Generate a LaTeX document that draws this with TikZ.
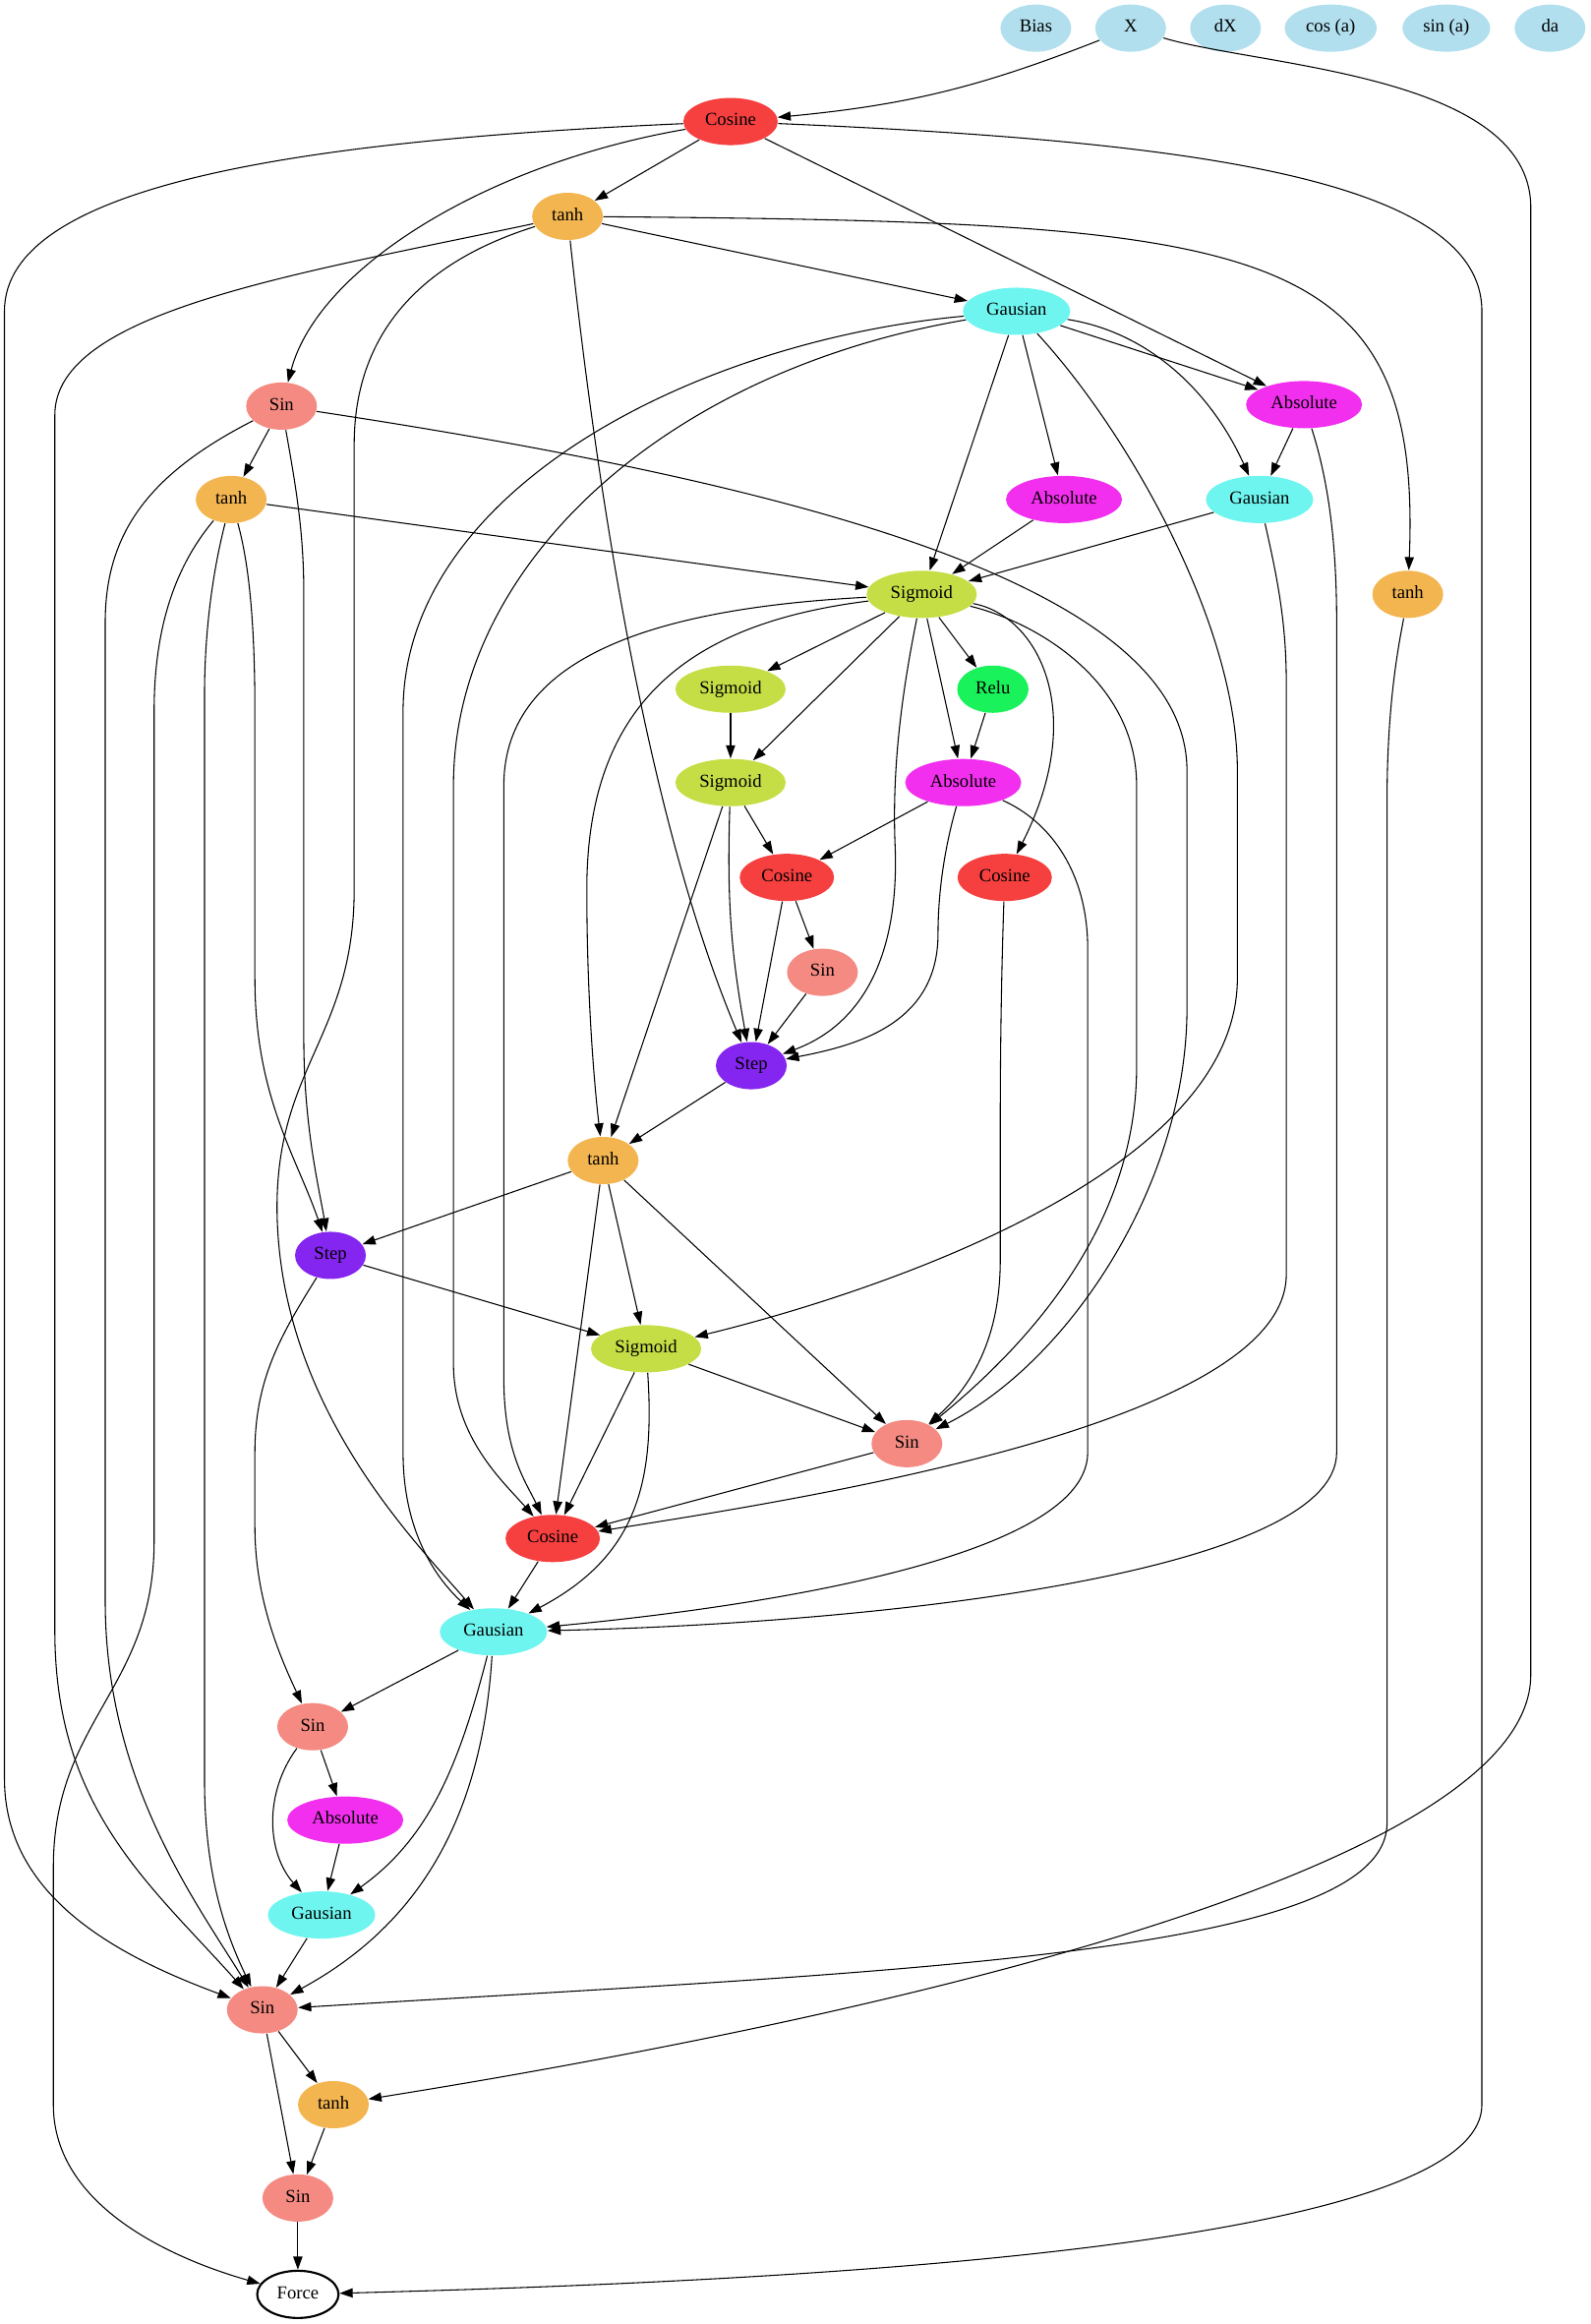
\documentclass[tikz,border=0pt]{standalone}
\usepackage{fontspec}
\setmainfont{Liberation Serif}
\usetikzlibrary{shapes.geometric,arrows.meta}

\definecolor{inblue}{HTML}{B2DFEE}
\definecolor{cosred}{HTML}{F63F3F}
\definecolor{tanhorange}{HTML}{F3B550}
\definecolor{gauscyan}{HTML}{6EF5EF}
\definecolor{sinsalmon}{HTML}{F48A82}
\definecolor{absmagenta}{HTML}{F22FEE}
\definecolor{sigyellow}{HTML}{C5DE45}
\definecolor{relugreen}{HTML}{19F25A}
\definecolor{steppurple}{HTML}{8525F0}

\begin{document}
\begin{tikzpicture}[x=1.13pt,y=-1.13pt,>={Triangle[length=10pt,width=7pt]},line width=0.8pt,
	every node/.style={shape=ellipse,font=\fontsize{14}{16}\selectfont,inner xsep=6pt,inner ysep=2pt,text height=9.5pt,text depth=3pt,minimum width=54pt,minimum height=36pt},
	input/.style={fill=inblue},
	cosfill/.style={fill=cosred},
	tanhfill/.style={fill=tanhorange},
	gausfill/.style={fill=gauscyan},
	sinfill/.style={fill=sinsalmon},
	absfill/.style={fill=absmagenta},
	sigfill/.style={fill=sigyellow},
	relufill/.style={fill=relugreen},
	stepfill/.style={fill=steppurple},
	output/.style={draw,line width=1.6pt,fill=white},]
	\useasboundingbox (0,0) rectangle (1073,1568);
	% create inputs
	\node[input] (Bias) at (699,19) {Bias};
	\node[input] (X) at (763,19) {X};
	\node[input] (dX) at (827,19) {dX};
	\node[input] (cosa) at (898,19) {cos (a)};
	\node[input] (sina) at (976,19) {sin (a)};
	\node[input] (da) at (1046,19) {da};
	% create hidden nodes
	\node[cosfill] (Cos1) at (493,82) {Cosine};
	\node[tanhfill] (tanh1) at (383,146) {tanh};
	\node[gausfill] (Gaus1) at (686,210) {Gausian};
	\node[sinfill] (Sin1) at (190,274) {Sin};
	\node[absfill] (Abs1) at (880,273) {Absolute};
	\node[tanhfill] (tanh2) at (156,337) {tanh};
	\node[absfill] (Abs2) at (718,337) {Absolute};
	\node[gausfill] (Gaus2) at (850,337) {Gausian};
	\node[tanhfill] (tanh3) at (950,401) {tanh};
	\node[sigfill] (Sig1) at (622,401) {Sigmoid};
	\node[sigfill] (Sig2) at (493,465) {Sigmoid};
	\node[relufill] (Relu) at (670,465) {Relu};
	\node[sigfill] (Sig3) at (493,528) {Sigmoid};
	\node[absfill] (Abs3) at (650,528) {Absolute};
	\node[cosfill] (Cos2) at (531,592) {Cosine};
	\node[cosfill] (Cos3) at (678,592) {Cosine};
	\node[sinfill] (Sin2) at (555,656) {Sin};
	\node[stepfill] (Step1) at (507,719) {Step};
	\node[tanhfill] (tanh4) at (407,783) {tanh};
	\node[stepfill] (Step2) at (223,847) {Step};
	\node[sigfill] (Sig4) at (436,910) {Sigmoid};
	\node[sinfill] (Sin3) at (612,974) {Sin};
	\node[cosfill] (Cos4) at (373,1038) {Cosine};
	\node[gausfill] (Gaus3) at (333,1101) {Gausian};
	\node[sinfill] (Sin4) at (211,1165) {Sin};
	\node[absfill] (Abs4) at (233,1228) {Absolute};
	\node[gausfill] (Gaus4) at (217,1292) {Gausian};
	\node[sinfill] (Sin5) at (177,1356) {Sin};
	\node[tanhfill] (tanh5) at (225,1420) {tanh};
	\node[sinfill] (Sin6) at (201,1483) {Sin};
	% output
	\node[output] (Force) at (201,1548) {Force};

	% connections
	\draw[->] (X) to[bend left=8] (Cos1);
	\draw[->] (X) .. controls (850,45) and (1033,50) .. (1033,140) -- (1033,1130) .. controls (1033,1260) and (600,1360) .. (tanh5);
	\draw[->] (Cos1) to (tanh1);
	\draw[->] (Cos1) .. controls (330,110) and (215,180) .. (Sin1);
	\draw[->] (Cos1) to (Abs1);
	\draw[->] (Cos1) .. controls (200,95) and (3,125) .. (3,210) -- (3,1200) .. controls (3,1280) and (80,1320) .. (Sin5);
	\draw[->] (Cos1) .. controls (800,95) and (1000,120) .. (1000,210) -- (1000,1420) .. controls (1000,1520) and (500,1540) .. (Force);

	\draw[->] (tanh1) to (Gaus1);
	\draw[->] (tanh1) .. controls (850,150) and (960,160) .. (tanh3);
	\draw[->] (tanh1) .. controls (405,350) and (440,560) .. (Step1);
	\draw[->] (tanh1) .. controls (290,175) and (239,220) .. (239,300) -- (239,600) .. controls (239,700) and (185,720) .. (187,820) .. controls (190,950) and (280,1040) .. (Gaus3);
	\draw[->] (tanh1) .. controls (200,185) and (37,210) .. (37,280) -- (37,1100) .. controls (37,1220) and (100,1270) .. (Sin5);

	\draw[->] (Gaus1) to (Abs1);
	\draw[->] (Gaus1) .. controls (780,225) and (820,270) .. (Gaus2);
	\draw[->] (Gaus1) to (Abs2);
	\draw[->] (Gaus1) to (Sig1);
	\draw[->] (Gaus1) .. controls (760,290) and (835,420) .. (835,520) -- (835,660) .. controls (835,800) and (560,880) .. (Sig4);
	\draw[->] (Gaus1) .. controls (450,250) and (306,380) .. (306,530) -- (306,920) .. controls (306,970) and (340,1000) .. (Cos4);
	\draw[->] (Gaus1) .. controls (470,230) and (272,330) .. (272,480) -- (272,980) .. controls (272,1040) and (300,1070) .. (Gaus3);

	\draw[->] (Sin1) to (tanh2);
	\draw[->] (Sin1) .. controls (200,330) and (205,360) .. (205,400) -- (205,700) .. controls (205,760) and (215,800) .. (Step2);
	\draw[->] (Sin1) .. controls (100,320) and (71,360) .. (71,420) -- (71,1080) .. controls (71,1200) and (130,1280) .. (Sin5);
	\draw[->] (Sin1) .. controls (560,330) and (801,400) .. (801,520) -- (801,680) .. controls (801,800) and (720,920) .. (Sin3);

	\draw[->] (Abs1) to (Gaus2);
	\draw[->] (Abs1) .. controls (895,320) and (902,360) .. (902,420) -- (902,980) .. controls (902,1060) and (600,1095) .. (Gaus3);

	\draw[->] (tanh2) to (Sig1);
	\draw[->] (tanh2) .. controls (168,380) and (172,420) .. (172,480) -- (172,660) .. controls (172,740) and (200,780) .. (Step2);
	\draw[->] (tanh2) .. controls (145,380) and (138,420) .. (138,470) -- (138,1200) .. controls (138,1260) and (150,1300) .. (Sin5);
	\draw[->] (tanh2) .. controls (120,380) and (104,420) .. (104,480) -- (104,1040) .. controls (104,1140) and (36,1160) .. (36,1260) -- (36,1420) .. controls (36,1490) and (120,1525) .. (Force);

	\draw[->] (Abs2) to (Sig1);
	\draw[->] (Gaus2) to (Sig1);
	\draw[->] (Gaus2) .. controls (862,390) and (868,420) .. (868,460) -- (868,860) .. controls (868,960) and (550,1010) .. (Cos4);
	\draw[->] (tanh3) .. controls (945,430) and (936,470) .. (936,540) -- (936,1230) .. controls (936,1320) and (600,1330) .. (Sin5);

	\draw[->] (Sig1) to (Sig2);
	\draw[->] (Sig1) to (Sig3);
	\draw[->] (Sig1) to (Relu);
	\draw[->] (Sig1) to (Abs3);
	\draw[->] (Sig1) .. controls (700,415) and (735,480) .. (Cos3);
	\draw[->] (Sig1) .. controls (608,470) and (602,520) .. (604,570) .. controls (607,640) and (585,690) .. (Step1);
	\draw[->] (Sig1) .. controls (470,420) and (396,470) .. (396,600) .. controls (396,680) and (402,740) .. (tanh4);
	\draw[->] (Sig1) .. controls (450,410) and (340,440) .. (340,530) -- (340,930) .. controls (340,980) and (355,1000) .. (Cos4);
	\draw[->] (Sig1) .. controls (700,420) and (767,460) .. (767,530) -- (767,720) .. controls (767,830) and (690,910) .. (Sin3);

	\draw[->] (Sig2) to (Sig3);
	\draw[->] (Relu) to (Abs3);
	\draw[->] (Sig3) to (Cos2);
	\draw[->] (Sig3) to[bend right=6] (Step1);
	\draw[->] (Sig3) to (tanh4);
	\draw[->] (Abs3) to (Cos2);
	\draw[->] (Abs3) .. controls (638,570) and (633,600) .. (633,630) .. controls (633,690) and (580,705) .. (Step1);
	\draw[->] (Abs3) .. controls (710,555) and (734,590) .. (734,640) -- (734,980) .. controls (734,1060) and (450,1090) .. (Gaus3);
	\draw[->] (Cos2) to (Sin2);
	\draw[->] (Cos2) to (Step1);
	\draw[->] (Cos3) .. controls (676,650) and (675,700) .. (675,760) -- (675,850) .. controls (675,910) and (650,940) .. (Sin3);
	\draw[->] (Sin2) to (Step1);

	\draw[->] (Step1) to (tanh4);
	\draw[->] (tanh4) to (Step2);
	\draw[->] (tanh4) to (Sig4);
	\draw[->] (tanh4) to (Cos4);
	\draw[->] (tanh4) to (Sin3);
	\draw[->] (Step2) to (Sig4);
	\draw[->] (Step2) .. controls (190,900) and (172,930) .. (172,980) -- (172,1030) .. controls (172,1080) and (190,1120) .. (Sin4);
	\draw[->] (Sig4) to (Sin3);
	\draw[->] (Sig4) to (Cos4);
	\draw[->] (Sig4) .. controls (442,1000) and (430,1050) .. (Gaus3);
	\draw[->] (Sin3) to (Cos4);
	\draw[->] (Cos4) to (Gaus3);

	\draw[->] (Gaus3) to (Sin4);
	\draw[->] (Gaus3) .. controls (310,1190) and (290,1240) .. (Gaus4);
	\draw[->] (Gaus3) .. controls (325,1230) and (280,1300) .. (Sin5);
	\draw[->] (Sin4) to (Abs4);
	\draw[->] (Sin4) .. controls (178,1210) and (180,1250) .. (Gaus4);
	\draw[->] (Abs4) to (Gaus4);
	\draw[->] (Gaus4) to (Sin5);
	\draw[->] (Sin5) to (tanh5);
	\draw[->] (Sin5) to (Sin6);
	\draw[->] (tanh5) to (Sin6);
	\draw[->] (Sin6) to (Force);
\end{tikzpicture}
\end{document}
